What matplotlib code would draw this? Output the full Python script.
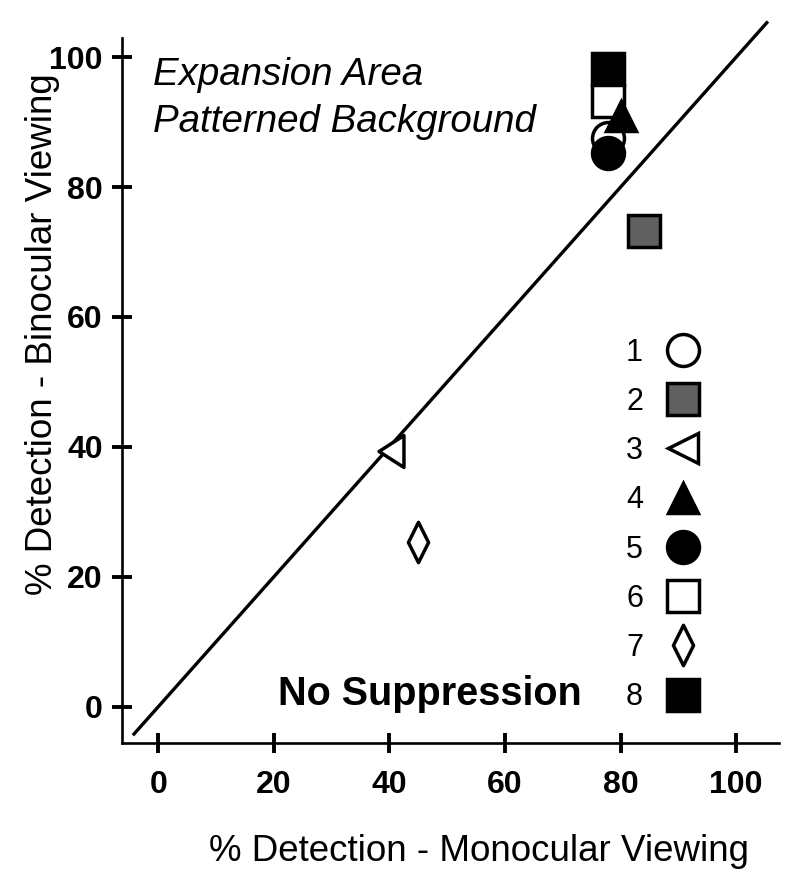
import matplotlib
matplotlib.use('Agg')
import matplotlib.pyplot as plt
from matplotlib.lines import Line2D
from matplotlib.path import Path

plt.rcParams['font.family'] = ['Liberation Sans', 'DejaVu Sans']

# ── data ──────────────────────────────────────────────────────────────────────
CONDITIONS = ['1', '2', '3', '4', '5', '6', '7', '8']
MONOCULAR  = [77.8, 84.0, 40.3, 80.0, 77.8, 77.8, 45.0, 77.8]
BINOCULAR  = [87.6, 73.3, 39.4, 90.9, 85.3, 93.3, 25.4, 98.1]
UNITY      = [-4.2, 105.3]          # extent of the y = x reference line

X_TICKS = [0, 20, 40, 60, 80, 100]
Y_TICKS = [0, 20, 40, 60, 80, 100]


def closed(verts):
    return Path(verts + [verts[0]], closed=True)


# ── marker styles ─────────────────────────────────────────────────────────────
LEFT_TRI = closed([(-0.39, 0.0), (0.39, 0.5), (0.39, -0.5)])
DIAMOND  = closed([(0.0, 0.5), (0.25, 0.0), (0.0, -0.5), (-0.25, 0.0)])

MARKERS = ['o', 's', LEFT_TRI, '^', 'o', 's', DIAMOND, 's']
FACES   = ['white', '#606060', 'white', 'black', 'black', 'white', 'white', 'black']
SIZES   = [23, 23, 23, 21, 23, 23, 29, 23]
LEG_MK  = ['o', 's', '<', '^', 'o', 's', DIAMOND, 's']
LEG_SZ  = [23, 23, 21, 21, 23, 23, 29, 23]
ZORDER  = [6, 4, 4, 7, 8, 5, 4, 3]
EDGE_W  = 2.5

fig = plt.figure(figsize=(8, 8.8), dpi=100)
ax = fig.add_axes([0.1521, 0.156, 0.8216, 0.8005])

ax.plot(UNITY, UNITY, color='black', lw=2.4, clip_on=False, zorder=2)

for x, y, m, fc, s, z in zip(MONOCULAR, BINOCULAR, MARKERS, FACES, SIZES, ZORDER):
    ax.plot([x], [y], ls='none', marker=m, ms=s, mfc=fc, mec='black',
            mew=EDGE_W, zorder=z, clip_on=False)

ax.set_xlim(-6.33, 107.4)
ax.set_ylim(-5.54, 102.9)
ax.set_xticks(X_TICKS)
ax.set_yticks(Y_TICKS)

for side in ('top', 'right'):
    ax.spines[side].set_visible(False)
for side in ('left', 'bottom'):
    ax.spines[side].set_linewidth(1.9)

ax.tick_params(direction='inout', length=15, width=2.8, labelsize=23)
ax.tick_params(axis='x', pad=12.5)
ax.tick_params(axis='y', pad=6)
for lbl in ax.get_xticklabels() + ax.get_yticklabels():
    lbl.set_fontweight('bold')

# annotations
ax.text(-0.9, 95.7, 'Expansion Area', fontsize=27.7, style='italic',
        ha='left', va='baseline')
ax.text(-0.9, 88.4, 'Patterned Background', fontsize=27.7, style='italic',
        ha='left', va='baseline')
ax.text(20.7, 0.26, 'No Suppression', fontsize=28.5, fontweight='bold',
        ha='left', va='baseline')

fig.text(479 / 800, 1 - 861 / 880, '% Detection - Monocular Viewing',
         fontsize=26.5, ha='center', va='baseline')
fig.text(43 / 800, 1 - 334 / 880, '% Detection - Binocular Viewing',
         fontsize=26.5, ha='center', va='center', rotation=90)

# legend: number on the left, marker on the right
handles = [Line2D([], [], ls='none', marker=m, ms=s, mfc=fc, mec='black', mew=EDGE_W)
           for m, fc, s in zip(LEG_MK, FACES, LEG_SZ)]
ax.legend(handles, CONDITIONS, loc='center right',
          bbox_to_anchor=(700.5 / 800, 1 - 525 / 880), bbox_transform=fig.transFigure,
          markerfirst=False, frameon=False, fontsize=22, labelspacing=0.63,
          handlelength=1.14, handletextpad=0.74, borderpad=0, borderaxespad=0)

fig.savefig('out.png', dpi=100, facecolor='white')
